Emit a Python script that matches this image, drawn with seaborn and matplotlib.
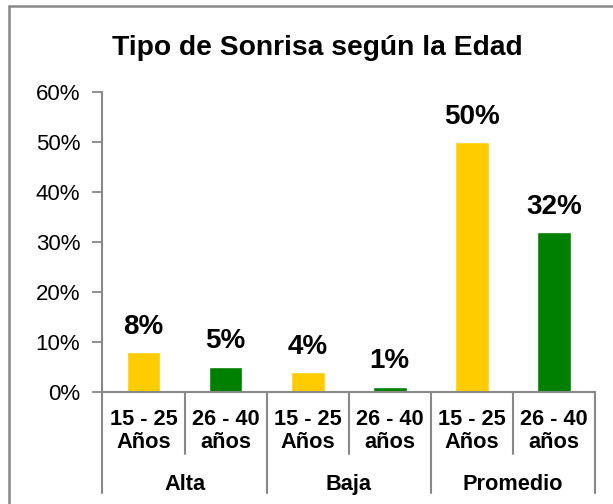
import matplotlib
matplotlib.use("Agg")
import matplotlib.pyplot as plt
import seaborn as sns
import pandas as pd
from matplotlib.lines import Line2D

# ---- data ----
grupos = ["Alta", "Baja", "Promedio"]
edades = ["15 - 25\nAños", "26 - 40\naños"]
edad_key = ["15-25", "26-40"]
valores_15_25 = [8, 4, 50]
valores_26_40 = [5, 1, 32]
titulo = "Tipo de Sonrisa según la Edad"
yticks = [0, 10, 20, 30, 40, 50, 60]

rows = []
for gi, g in enumerate(grupos):
    for ei, vals in enumerate([valores_15_25, valores_26_40]):
        rows.append({"pos": f"{g}|{edad_key[ei]}", "grupo": g,
                     "edad": edad_key[ei], "sub": edades[ei], "valor": vals[gi]})
df = pd.DataFrame(rows)

sns.set_theme(style="white")
plt.rcParams["font.family"] = ["Liberation Sans", "DejaVu Sans"]
plt.rcParams["text.color"] = "black"

W, H = 613, 504
fig = plt.figure(figsize=(W / 100, H / 100), dpi=100)
ax_left, ax_right, ax_top, ax_bot = 102.5, 595, 92, 392
ax = fig.add_axes([ax_left / W, 1 - ax_bot / H, (ax_right - ax_left) / W, (ax_bot - ax_top) / H])

palette = {"15-25": "#FFCC00", "26-40": "#008000"}
sns.barplot(data=df, x="pos", y="valor", hue="edad", palette=palette,
            dodge=False, width=0.41, ax=ax, legend=False, saturation=1)

ax.set_xlim(-0.5, len(df) - 0.5)
ax.set_ylim(0, 60)
ax.set_yticks(yticks)
ax.set_yticklabels([f"{v}%" for v in yticks], fontsize=16, color="black")
ax.set_xticks([])
ax.set_xlabel("")
ax.set_ylabel("")

gray = "#888888"
for s in ["top", "right"]:
    ax.spines[s].set_visible(False)
for s in ["left", "bottom"]:
    ax.spines[s].set_color(gray)
    ax.spines[s].set_linewidth(1.5)
ax.tick_params(axis="y", which="both", left=True, length=7, width=1.3,
               color=gray, pad=9)

# data labels (from each bar's own height)
for p in ax.patches:
    h = p.get_height()
    ax.annotate(f"{h:.0f}%", (p.get_x() + p.get_width() / 2, h),
                xytext=(0, 9), textcoords="offset points",
                ha="center", va="bottom", fontsize=20, fontweight="bold",
                color="black")

# multi-level category axis
def fx(px):
    return px / W

def fy(py):
    return 1 - py / H

slot = (ax_right - ax_left) / len(df)
for i in range(len(df) + 1):
    x = ax_left + i * slot
    end = 493 if i % 2 == 0 else 454
    fig.add_artist(Line2D([fx(x), fx(x)], [fy(ax_bot), fy(end)], color=gray, lw=1.5))
for i, r in df.iterrows():
    cx = ax_left + (i + 0.5) * slot
    l1, l2 = r["sub"].split("\n")
    fig.text(fx(cx), fy(425), l1, ha="center", va="baseline", fontsize=15.7, fontweight="bold")
    fig.text(fx(cx), fy(448), l2, ha="center", va="baseline", fontsize=15.7, fontweight="bold")
for gi, g in enumerate(grupos):
    cx = ax_left + (gi * 2 + 1) * slot
    fig.text(fx(cx), fy(490), g, ha="center", va="baseline", fontsize=15.7, fontweight="bold")

# title
fig.text(fx(317), fy(55), titulo, ha="center", va="baseline", fontsize=20.3,
         fontweight="bold", color="black")

# chart border (left and top visible)
fig.add_artist(Line2D([fx(8.5), fx(8.5)], [0, fy(5.5)], color=gray, lw=1.8))
fig.add_artist(Line2D([fx(8.5), 1], [fy(5.5), fy(5.5)], color=gray, lw=1.8))

fig.savefig("out.png", dpi=100)
